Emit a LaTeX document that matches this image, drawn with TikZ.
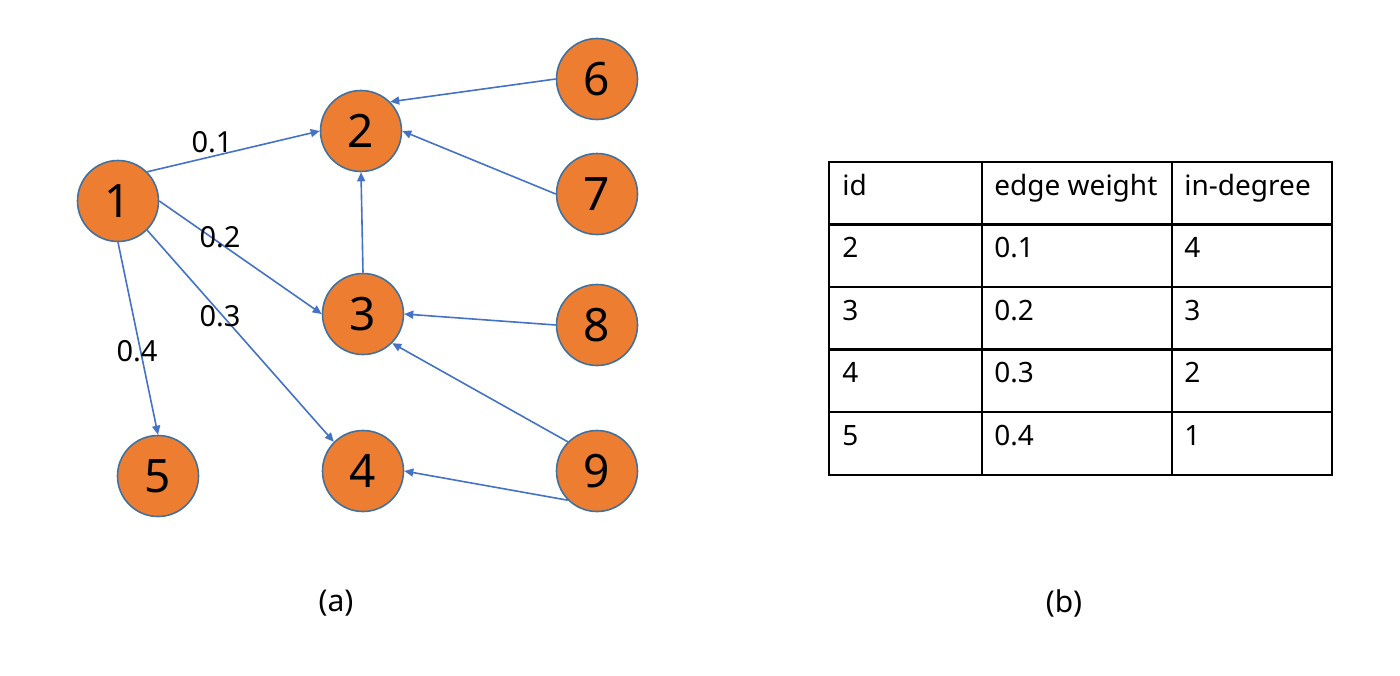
\documentclass[tikz,border=0pt]{standalone}
\usepackage{fontspec}
\setmainfont{Noto Sans}
\usetikzlibrary{arrows.meta,positioning}
\definecolor{vertexfill}{RGB}{237,125,49}
\definecolor{vertexline}{RGB}{65,113,156}
\definecolor{linkblue}{RGB}{68,114,196}

\begin{document}
\begin{tikzpicture}[x=0.5pt, y=-0.5pt,
  vertex/.style={circle, draw=vertexline, fill=vertexfill, line width=0.8pt,
    minimum size=40.5pt, inner sep=0pt, font=\fontsize{23}{23}\selectfont},
  link/.style={draw=linkblue, line width=0.8pt, -{Triangle[length=4.5pt, width=4pt]}},
  weight/.style={font=\fontsize{14.5}{14.5}\selectfont, inner sep=0pt},
  cell/.style={anchor=base west, font=\fontsize{14}{14}\selectfont, inner sep=0pt},
  caption/.style={font=\fontsize{15}{15}\selectfont}]
  \useasboundingbox (0,0) rectangle (1400,675);
  % (a) graph
  \foreach \n/\x/\y in {1/118/201, 2/361/131, 3/363/314, 4/363/471, 5/158/476,
                        6/597/79, 7/597/194, 8/597/325, 9/597/471}
    \node[vertex] (n\n) at (\x,\y) {\n};
  \draw[link] (n1.north east) -- (n2.west);
  \draw[link] (n1.east) -- (n3.west);
  \draw[link] (n1.south east) -- (n4.north west);
  \draw[link] (n1.south) -- (n5.north);
  \draw[link] (n6.west) -- (n2.north east);
  \draw[link] (n7.west) -- (n2.east);
  \draw[link] (n3.north) -- (n2.south);
  \draw[link] (n8.west) -- (n3.east);
  \draw[link] (n9.north west) -- (n3.south east);
  \draw[link] (n9.south west) -- (n4.east);
  \node[weight] (w12) at (212,142) {0.1};
  \node[weight] (w13) at (220,237) {0.2};
  \node[weight] (w14) at (220,316) {0.3};
  \node[weight] (w15) at (137,351) {0.4};
  \node[caption] (capa) at (336,603) {(a)};
  % (b) table
  \draw[line width=1.1pt] (829,162) rectangle (1332,475);
  \foreach \y in {224.5, 287, 349.5, 412}
    \draw[line width=1.1pt] (829,\y) -- (1332,\y);
  \foreach \x in {982, 1172}
    \draw[line width=1.1pt] (\x,162) -- (\x,475);
  \foreach \r/\a/\b/\c in {0/id/edge weight/in-degree, 1/2/0.1/4, 2/3/0.2/3, 3/4/0.3/2, 4/5/0.4/1} {
    \node[cell] (id\r) at (842,{162+62.6*\r+33}) {\a};
    \node[cell] (ew\r) at (994,{162+62.6*\r+33}) {\b};
    \node[cell] (deg\r) at (1184,{162+62.6*\r+33}) {\c};
  }
  \node[caption] (capb) at (1064,603) {(b)};
\end{tikzpicture}
\end{document}
